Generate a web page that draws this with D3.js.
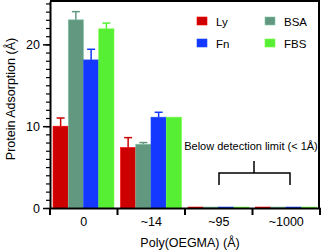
<!DOCTYPE html>
<html>
<head>
<meta charset="utf-8">
<script src="https://cdn.jsdelivr.net/npm/d3@7"></script>
<style>
  body { margin: 0; background: #fff; }
  text { font-family: "Liberation Sans", Arial, sans-serif; fill: #000; }
</style>
</head>
<body>
<svg id="chart"></svg>
<script>
// data
var groups = ["0", "~14", "~95", "~1000"];
var proteins = ["Ly", "BSA", "Fn", "FBS"];
var means = [
  [10.0, 23.0, 18.1, 21.9],
  [7.4, 7.8, 11.1, 11.1],
  [0.12, 0.12, 0.12, 0.12],
  [0.12, 0.12, 0.12, 0.12]
];
var errors = [
  [1.0, 1.0, 1.3, 0.7],
  [1.2, 0.2, 0.6, 0],
  [0, 0, 0, 0],
  [0, 0, 0, 0]
];
var colors = ["#cc0000", "#62987f", "#1438ff", "#57ef34"];
var yTicks = [0, 10, 20];

var width = 323, height = 252;
var svg = d3.select("#chart").attr("width", width).attr("height", height);

var x0 = d3.scaleBand().domain(groups).range([50, 320]);
var x1 = d3.scaleBand().domain(proteins).range([3, 64]);
var y = d3.scaleLinear().domain([0, 25.3]).range([208, 1]);

// bars + error bars
var g = svg.append("g");
groups.forEach(function (grp, i) {
  proteins.forEach(function (p, j) {
    var bx = x0(grp) + x1(p);
    g.append("rect")
      .attr("x", bx)
      .attr("y", y(means[i][j]))
      .attr("width", x1.bandwidth())
      .attr("height", y(0) - y(means[i][j]))
      .attr("fill", colors[j])
      .attr("stroke", d3.color(colors[j]).brighter(0.8))
      .attr("stroke-width", 0.6);
    if (errors[i][j] > 0) {
      var cx = bx + x1.bandwidth() / 2;
      var top = y(means[i][j] + errors[i][j]);
      g.append("line").attr("x1", cx).attr("x2", cx)
        .attr("y1", y(means[i][j])).attr("y2", top)
        .attr("stroke", colors[j]).attr("stroke-width", 1.5);
      g.append("line").attr("x1", cx - 4).attr("x2", cx + 4)
        .attr("y1", top).attr("y2", top)
        .attr("stroke", colors[j]).attr("stroke-width", 1.5);
    }
  });
});

// frame top/right
svg.append("line").attr("x1", 50).attr("x2", 320).attr("y1", 1).attr("y2", 1)
  .attr("stroke", "#000").attr("stroke-width", 2);
svg.append("line").attr("x1", 319).attr("x2", 319).attr("y1", 0).attr("y2", 209)
  .attr("stroke", "#000").attr("stroke-width", 2);

// y axis
var yAxis = svg.append("g").attr("transform", "translate(50,0)")
  .call(d3.axisLeft(y).tickValues(yTicks).tickSize(7).tickPadding(3).tickSizeOuter(0));
yAxis.select(".domain").attr("stroke-width", 2);
yAxis.selectAll(".tick line").attr("stroke-width", 1.5);
yAxis.selectAll("text").style("font-size", "12.5px").style("font-family", "Liberation Sans, Arial");
svg.append("g").attr("transform", "translate(50,0)")
  .call(d3.axisLeft(y).tickValues(d3.range(0, 26, 1)).tickSize(4).tickFormat(""))
  .call(function (a) { a.select(".domain").remove(); a.selectAll("line").attr("stroke-width", 1.2); });

// x axis
var xAxis = svg.append("g").attr("transform", "translate(0,208)")
  .call(d3.axisBottom(x0).tickSize(0).tickPadding(9));
xAxis.select(".domain").attr("stroke-width", 2);
xAxis.selectAll("text").style("font-size", "12.5px").style("font-family", "Liberation Sans, Arial");
d3.range(groups.length + 1).forEach(function (k) {
  var px = x0.range()[0] + k * x0.step();
  svg.append("line").attr("x1", px).attr("x2", px).attr("y1", 208).attr("y2", 215)
    .attr("stroke", "#000").attr("stroke-width", 2);
});

// axis titles
svg.append("text").attr("transform", "translate(15,99) rotate(-90)")
  .attr("text-anchor", "middle").style("font-size", "12.5px")
  .text("Protein Adsorption (Å)");
svg.append("text").attr("x", 190).attr("y", 247)
  .attr("text-anchor", "middle").style("font-size", "12.5px")
  .text("Poly(OEGMA) (Å)");

// legend
var legend = svg.append("g");
var legendPos = [[197, 17], [265, 17], [197, 39], [265, 39]];
proteins.forEach(function (p, j) {
  legend.append("rect").attr("x", legendPos[j][0]).attr("y", legendPos[j][1])
    .attr("width", 10).attr("height", 8).attr("fill", colors[j])
    .attr("stroke", d3.color(colors[j]).brighter(0.8)).attr("stroke-width", 0.6);
  legend.append("text").attr("x", legendPos[j][0] + 19).attr("y", legendPos[j][1] + 8.5)
    .style("font-size", "11.5px").text(p);
});

// annotation
svg.append("text").attr("x", 251).attr("y", 150).attr("text-anchor", "middle")
  .style("font-size", "11px").text("Below detection limit (< 1Å)");
svg.append("path")
  .attr("d", "M254,161V173M219,185V173H290V185")
  .attr("fill", "none").attr("stroke", "#000").attr("stroke-width", 1.5);
</script>
</body>
</html>
